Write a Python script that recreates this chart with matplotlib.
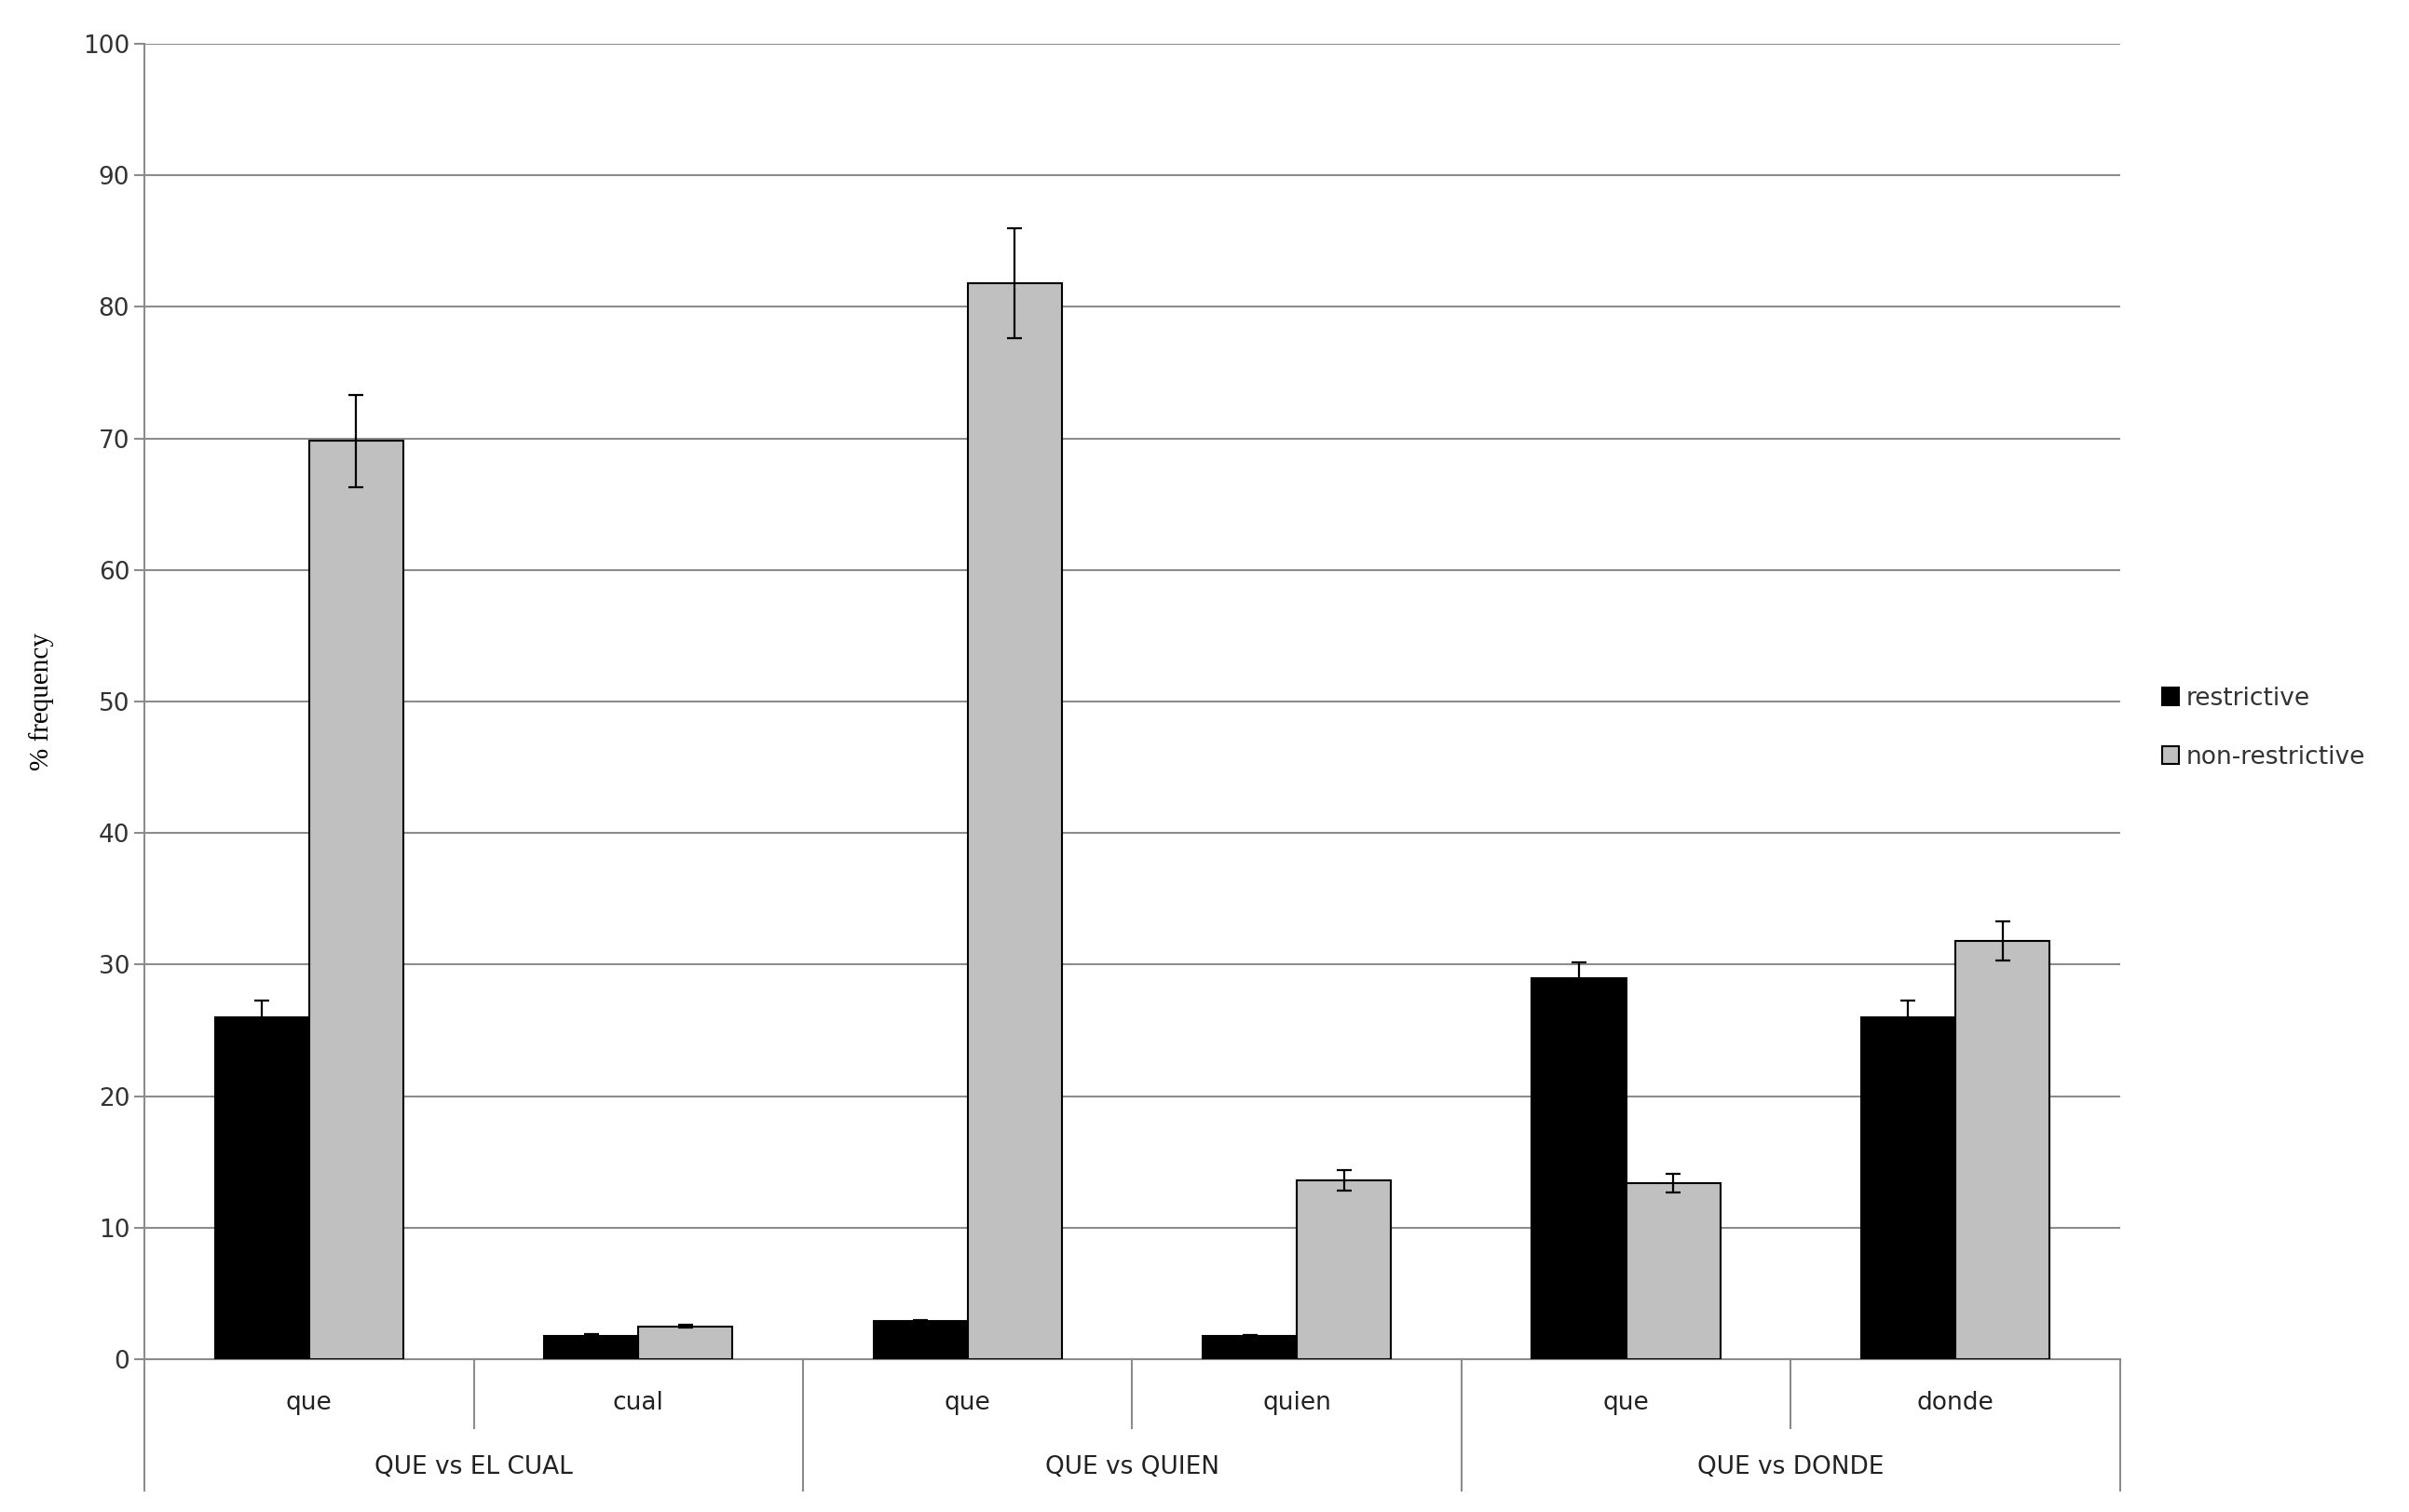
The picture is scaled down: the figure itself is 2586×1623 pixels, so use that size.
import matplotlib
matplotlib.use("Agg")
import matplotlib.pyplot as plt
import numpy as np
from matplotlib.transforms import blended_transform_factory

subcats = ["que", "cual", "que", "quien", "que", "donde"]
groups = ["QUE vs EL CUAL", "QUE vs QUIEN", "QUE vs DONDE"]
restrictive = [26.0, 1.8, 2.9, 1.8, 29.0, 26.0]
restrictive_err = [1.3, 0.15, 0.05, 0.05, 1.2, 1.3]
nonrestrictive = [69.8, 2.5, 81.8, 13.6, 13.4, 31.8]
nonrestrictive_err = [3.5, 0.1, 4.2, 0.8, 0.7, 1.5]

fig = plt.figure(figsize=(25.86, 16.23), dpi=100)
ax = fig.add_axes([0.060, 0.101, 0.820, 0.870])
x = np.arange(len(subcats))
w = 0.286
ek = dict(ecolor="black", elinewidth=1.6, capsize=6, capthick=1.6)
ax.bar(x - w/2, restrictive, w, color="black", edgecolor="black", linewidth=1.5,
       yerr=restrictive_err, error_kw=ek, label="restrictive", zorder=3)
ax.bar(x + w/2, nonrestrictive, w, color="#c0c0c0", edgecolor="black", linewidth=1.5,
       yerr=nonrestrictive_err, error_kw=ek, label="non-restrictive", zorder=3)
ax.set_xlim(-0.5, len(subcats) - 0.5)
ax.set_ylim(0, 100)
ax.set_yticks(range(0, 101, 10))
ax.yaxis.grid(True, color="#8c8c8c", linewidth=1.5, zorder=0)
ax.set_axisbelow(True)
for s in ["top", "right"]:
    ax.spines[s].set_visible(False)
ax.spines["left"].set_color("#8c8c8c")
ax.spines["bottom"].set_color("#8c8c8c")
ax.spines["left"].set_linewidth(1.5)
ax.spines["bottom"].set_linewidth(1.5)
ax.set_xticks([])
ax.tick_params(axis="y", labelsize=19, colors="#333333", length=8, width=1.5, color="#8c8c8c")
ax.set_ylabel("% frequency", family="Liberation Serif", fontsize=21, labelpad=22)

tr = blended_transform_factory(ax.transData, ax.transAxes)
for i, s in enumerate(subcats):
    ax.text(i, -0.033, s, transform=tr, ha="center", va="center", fontsize=19, color="#222222")
for j, g in enumerate(groups):
    ax.text(2*j + 0.5, -0.082, g, transform=tr, ha="center", va="center", fontsize=19, color="#222222")
for b in np.arange(-0.5, len(subcats), 1.0):
    if round(b + 0.5) % 2 == 0:
        ax.plot([b, b], [0, -0.1], transform=tr, color="#8c8c8c", lw=1.5, clip_on=False)
    else:
        ax.plot([b, b], [0, -0.052], transform=tr, color="#8c8c8c", lw=1.5, clip_on=False)

leg = ax.legend(loc="center left", bbox_to_anchor=(1.01, 0.48), frameon=False,
                fontsize=19, handlelength=0.7, handleheight=0.7, handletextpad=0.3,
                labelspacing=1.4)
for t in leg.get_texts():
    t.set_color("#333333")
fig.savefig("out.png", dpi=100)
